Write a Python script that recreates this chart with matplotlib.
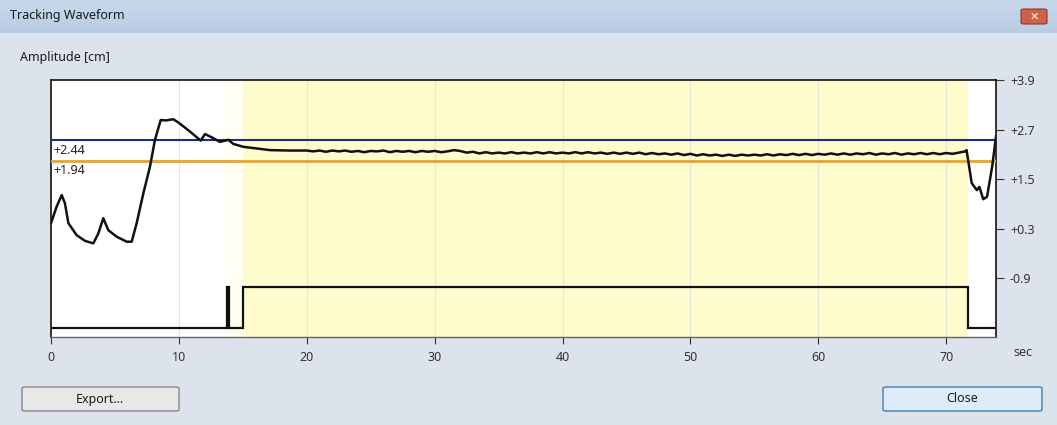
import numpy as np
import matplotlib.pyplot as plt
from matplotlib.patches import FancyBboxPatch

plt.rcParams['font.family'] = ['Noto Sans', 'DejaVu Sans']

# waveform, start (rise and overshoot)
wave_t = [0.0, 0.44, 0.84, 1.09, 1.36, 2.0, 2.66, 3.31, 3.7, 4.09, 4.48, 5.14, 5.92, 6.31,
          6.7, 7.22, 7.74, 8.13, 8.58, 9.0, 9.56, 9.96, 10.87, 11.71, 12.04, 12.57, 13.22,
          13.87, 14.26, 15.04, 16.1, 17.13, 18.7, 20.0]
wave_v = [0.43, 0.83, 1.11, 0.91, 0.43, 0.14, 0.0, -0.06, 0.18, 0.55, 0.26, 0.10, -0.02, -0.02,
          0.43, 1.15, 1.80, 2.45, 2.93, 2.92, 2.95, 2.87, 2.65, 2.43, 2.59, 2.51, 2.40,
          2.45, 2.35, 2.28, 2.24, 2.20, 2.19, 2.19]

# breath-hold plateau, read every 0.5 s from 20.5 to 71.5
plateau_start = 20.5
plateau_v = [2.17, 2.19, 2.16, 2.19, 2.17, 2.19, 2.16, 2.18, 2.15, 2.18,
             2.17, 2.19, 2.15, 2.18, 2.16, 2.18, 2.15, 2.18, 2.16, 2.18,
             2.15, 2.17, 2.20, 2.18, 2.14, 2.16, 2.12, 2.15, 2.12, 2.14,
             2.12, 2.15, 2.12, 2.14, 2.12, 2.15, 2.12, 2.15, 2.12, 2.14,
             2.12, 2.15, 2.12, 2.15, 2.12, 2.14, 2.11, 2.14, 2.11, 2.14,
             2.11, 2.14, 2.10, 2.13, 2.10, 2.12, 2.09, 2.12, 2.08, 2.11,
             2.07, 2.10, 2.07, 2.09, 2.06, 2.09, 2.06, 2.09, 2.07, 2.09,
             2.07, 2.10, 2.07, 2.10, 2.08, 2.11, 2.08, 2.11, 2.08, 2.11,
             2.09, 2.12, 2.09, 2.12, 2.09, 2.12, 2.10, 2.13, 2.09, 2.12,
             2.10, 2.13, 2.09, 2.12, 2.10, 2.13, 2.10, 2.13, 2.10, 2.13,
             2.11, 2.14, 2.17]

# release at the end
end_t = [71.6, 72.0, 72.4, 72.6, 72.9, 73.2, 73.6, 73.9]
end_v = [2.20, 1.40, 1.23, 1.31, 1.01, 1.07, 1.80, 2.53]

# gating signal (beam on/off)
gate_t = [0, 13.75, 13.75, 13.9, 13.9, 15.05, 15.05, 71.7, 71.7, 73.9]
gate_v = [-2.12, -2.12, -1.11, -1.11, -2.12, -2.12, -1.11, -1.11, -2.12, -2.12]

upper_thr = 2.44
lower_thr = 1.94
window = (15.05, 71.7)
yticks = [3.9, 2.7, 1.5, 0.3, -0.9]
xticks = [0, 10, 20, 30, 40, 50, 60, 70]

plateau_t = [plateau_start + 0.5 * i for i in range(len(plateau_v))]
t_all = wave_t + plateau_t + end_t
v_all = wave_v + plateau_v + end_v

W, H = 1057, 425
fs = 9
fig = plt.figure(figsize=(W / 100, H / 100), dpi=100, facecolor='#dce3ec')

def fx(px):
    return px / W

def fy(py):
    return 1 - py / H

# title bar
tb = fig.add_axes([0, fy(33), 1, 33 / H])
grad = np.linspace(0, 1, 50).reshape(-1, 1)
tb.imshow(grad, aspect='auto', cmap=plt.matplotlib.colors.LinearSegmentedColormap.from_list(
    'tb', ['#c9d9ec', '#b8cce4']), extent=[0, 1, 0, 1])
tb.axis('off')
fig.text(fx(10), fy(16), 'Tracking Waveform', fontsize=fs, va='center', ha='left', color='#1a1a1a')
fig.patches.append(FancyBboxPatch((fx(1021), fy(24)), fx(26), 15 / H,
                                  boxstyle='round,pad=0,rounding_size=0.003',
                                  transform=fig.transFigure, facecolor='#d0604a',
                                  edgecolor='#8a3a30', lw=0.8))
fig.text(fx(1034), fy(16.5), '\u2715', fontsize=8, fontweight='bold', color='white',
         ha='center', va='center', family='DejaVu Sans')

fig.text(fx(20), fy(57), 'Amplitude [cm]', fontsize=fs, va='center', ha='left', color='#1a1a1a')

ax = fig.add_axes([fx(51), fy(337), fx(996 - 51), (337 - 80) / H])
ax.set_facecolor('white')
ax.axvspan(13.7, window[0], color='#fffff2', lw=0, zorder=0)
ax.axvspan(window[0], window[1], color='#fefbcc', lw=0, zorder=0)
for xt in xticks[1:]:
    ax.axvline(xt, color='#e4e4dc', lw=0.8, zorder=1)

ax.axhline(upper_thr, color='#1c2a8c', lw=1.5, zorder=3)
ax.axhline(lower_thr, color='#e0a43a', lw=2.0, zorder=3)
ax.text(0.2, upper_thr - 0.08, '+%.2f' % upper_thr, fontsize=fs, va='top', ha='left', color='#222')
ax.text(0.2, lower_thr - 0.08, '+%.2f' % lower_thr, fontsize=fs, va='top', ha='left', color='#222')

ax.plot(t_all, v_all, color='#111111', lw=1.8, zorder=4)
ax.plot(gate_t, gate_v, color='#111111', lw=1.6, zorder=4, solid_joinstyle='miter')

ax.set_xlim(0, 73.9)
ax.set_ylim(-2.33, 3.9)
ax.set_xticks(xticks)
ax.set_xticklabels([str(x) for x in xticks], fontsize=fs, color='#333')
ax.yaxis.tick_right()
ax.set_yticks(yticks)
ax.set_yticklabels(['%+.1f' % y for y in yticks], fontsize=fs, color='#333')
ax.tick_params(axis='x', length=5, width=0.8, color='#333', pad=5)
ax.tick_params(axis='y', length=6, width=0.8, color='#333', pad=4)
for s in ['left', 'top', 'right']:
    ax.spines[s].set_color('#111')
    ax.spines[s].set_linewidth(1.2)
ax.spines['bottom'].set_color('#666')
ax.spines['bottom'].set_linewidth(1.0)

fig.text(fx(1023), fy(353), 'sec', fontsize=fs, va='center', ha='center', color='#333')

# buttons
fig.patches.append(FancyBboxPatch((fx(22), fy(411)), fx(157), 24 / H,
                                  boxstyle='round,pad=0,rounding_size=0.003',
                                  transform=fig.transFigure, facecolor='#e8e8e8',
                                  edgecolor='#707070', lw=0.8))
fig.text(fx(100), fy(399), 'Export...', fontsize=fs, ha='center', va='center', color='#1a1a1a')
fig.patches.append(FancyBboxPatch((fx(883), fy(411)), fx(159), 24 / H,
                                  boxstyle='round,pad=0,rounding_size=0.003',
                                  transform=fig.transFigure, facecolor='#dcecf8',
                                  edgecolor='#3c7fb1', lw=1.0))
fig.text(fx(962), fy(399), 'Close', fontsize=fs, ha='center', va='center', color='#1a1a1a')

fig.savefig('out.png', dpi=100, facecolor=fig.get_facecolor())
